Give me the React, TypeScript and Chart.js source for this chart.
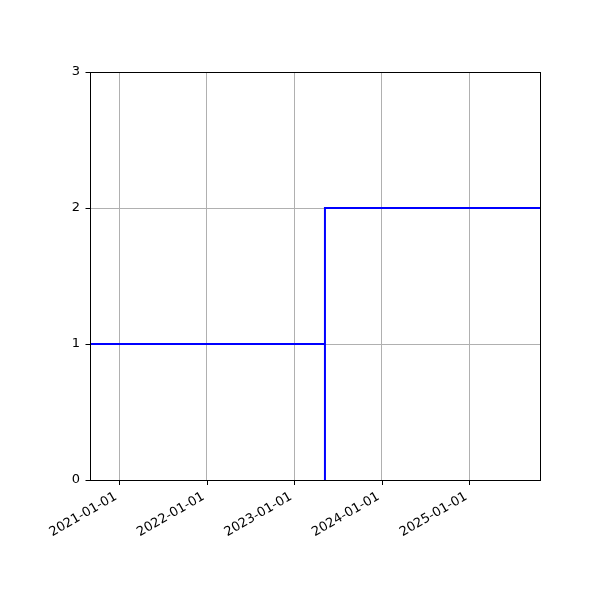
import React, { useEffect, useRef } from "react";
import { Chart, registerables } from "chart.js";

Chart.register(...registerables);

const rangeStart = "2020-09-02";
const rangeEnd = "2025-10-23";
const stepDates = ["2020-09-02", "2023-05-10", "2023-05-10", "2023-05-10", "2025-10-23"];
const stepValues = [1, 1, 0, 2, 2];
const xTickDates = ["2021-01-01", "2022-01-01", "2023-01-01", "2024-01-01", "2025-01-01"];
const yTickValues = [0, 1, 2, 3];

const toMs = (d: string) => {
  const [y, m, dd] = d.split("-").map(Number);
  return Date.UTC(y, m - 1, dd);
};
const fmt = (v: number) => {
  const d = new Date(v);
  const p = (n: number) => String(n).padStart(2, "0");
  return `${d.getUTCFullYear()}-${p(d.getUTCMonth() + 1)}-${p(d.getUTCDate())}`;
};

const frame = {
  id: "frame",
  afterDraw(chart: any) {
    const { ctx, chartArea: a, scales } = chart;
    ctx.save();
    ctx.strokeStyle = "#000";
    ctx.lineWidth = 1;
    ctx.strokeRect(a.left + 0.5, a.top + 0.5, a.right - a.left, a.bottom - a.top);
    ctx.beginPath();
    scales.x.ticks.forEach((t: any) => {
      const x = Math.round(scales.x.getPixelForValue(t.value)) + 0.5;
      ctx.moveTo(x, a.bottom + 0.5);
      ctx.lineTo(x, a.bottom + 5);
    });
    scales.y.ticks.forEach((t: any) => {
      const y = Math.round(scales.y.getPixelForValue(t.value)) + 0.5;
      ctx.moveTo(a.left + 0.5, y);
      ctx.lineTo(a.left - 4.5, y);
    });
    ctx.stroke();
    ctx.restore();
  },
};

export default function App() {
  const ref = useRef<HTMLCanvasElement>(null);
  useEffect(() => {
    const chart = new Chart(ref.current!, {
      type: "line",
      data: {
        datasets: [
          {
            data: stepDates.map((d, i) => ({ x: toMs(d), y: stepValues[i] })),
            borderColor: "#0000ff",
            borderWidth: 2,
            pointRadius: 0,
            fill: false,
            tension: 0,
          },
        ],
      },
      options: {
        animation: false,
        responsive: false,
        devicePixelRatio: 1,
        layout: { padding: { top: 72, right: 60, left: 0, bottom: 0 } },
        plugins: { legend: { display: false }, tooltip: { enabled: false } },
        scales: {
          x: {
            type: "linear",
            min: toMs(rangeStart),
            max: toMs(rangeEnd),
            afterBuildTicks: (s: any) => {
              s.ticks = xTickDates.map((d) => ({ value: toMs(d) }));
            },
            afterFit: (s: any) => {
              s.height = 120;
            },
            grid: { color: "#b0b0b0", lineWidth: 1, drawTicks: false },
            border: { display: false },
            ticks: {
              autoSkip: false,
              minRotation: 30,
              maxRotation: 30,
              padding: 9,
              labelOffset: -3,
              color: "#000",
              font: { family: "DejaVu Sans", size: 13 },
              callback: (v: any) => fmt(Number(v)),
            },
          },
          y: {
            type: "linear",
            min: 0,
            max: 3,
            afterBuildTicks: (s: any) => {
              s.ticks = yTickValues.map((v) => ({ value: v }));
            },
            afterFit: (s: any) => {
              s.width = 90;
            },
            grid: { color: "#b0b0b0", lineWidth: 1, drawTicks: false },
            border: { display: false },
            ticks: {
              padding: 10,
              color: "#000",
              font: { family: "DejaVu Sans", size: 13 },
            },
          },
        },
      },
      plugins: [frame],
    });
    return () => chart.destroy();
  }, []);
  return (
    <div style={{ position: "fixed", left: 0, top: 0, width: 600, height: 600, background: "#fff" }}>
      <canvas ref={ref} width={600} height={600} />
    </div>
  );
}
